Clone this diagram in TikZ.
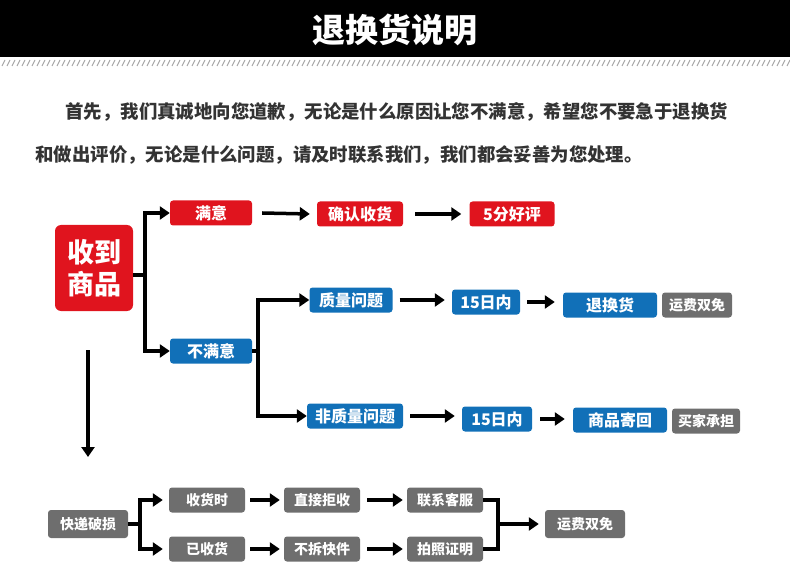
\documentclass[tikz,border=0pt]{standalone}
\usepackage{fontspec}
\setmainfont{Noto Sans CJK SC}
\usetikzlibrary{arrows.meta,positioning}
\definecolor{boxred}{HTML}{E0141E}
\definecolor{boxblue}{HTML}{1170B8}
\definecolor{boxgray}{HTML}{6E6E6E}
\tikzset{
  box/.style={rounded corners=3pt,text=white,font=\fontsize{16}{16}\selectfont\bfseries,
    minimum height=25pt,inner sep=2pt,anchor=center},
  rbox/.style={box,fill=boxred},
  bbox/.style={box,fill=boxblue},
  gbox/.style={box,fill=boxgray,font=\fontsize{14}{14}\selectfont\bfseries},
  arr/.style={line width=3.5pt,-{Triangle[length=10pt,width=13pt]}},
  brk/.style={line width=3.5pt},
}
\begin{document}
\begin{tikzpicture}[x=1pt,y=-1pt]
   \useasboundingbox (0,0) rectangle (790,588);
   % header
   \fill[black] (0,0) rectangle (790,57);
   \node[text=white,font=\fontsize{33}{33}\selectfont\bfseries] (title) at (395,30) {退换货说明};
   \foreach \x in {0,5,...,785}
     \draw[gray!70,line width=1pt] (\x+2,66) -- (\x+5,60);
   \node[anchor=west,text=black!80,font=\fontsize{18.4}{18.4}\selectfont\bfseries] (line1) at (62,112)
     {首先，我们真诚地向您道歉，无论是什么原因让您不满意，希望您不要急于退换货};
   \node[anchor=west,text=black!80,font=\fontsize{18.4}{18.4}\selectfont\bfseries] (line2) at (32,155)
     {和做出评价，无论是什么问题，请及时联系我们，我们都会妥善为您处理。};
   % top branch
   \node[rbox,minimum width=78pt,minimum height=86pt,rounded corners=6pt,
     font=\fontsize{27}{32}\selectfont\bfseries,align=center] (goods) at (94,268) {收到\\商品};
   \node[rbox,minimum width=82pt] (ok) at (211,213) {满意};
   \node[rbox,minimum width=86pt] (confirm) at (360,214) {确认收货};
   \node[rbox,minimum width=85pt] (praise) at (512,214) {5分好评};
   \node[bbox,minimum width=82pt] (notok) at (211,351) {不满意};
   \node[bbox,minimum width=83pt] (qual) at (351,300) {质量问题};
   \node[bbox,minimum width=68pt] (days1) at (486,302) {15日内};
   \node[bbox,minimum width=94pt] (swap) at (610,305) {退换货};
   \node[gbox,minimum width=70pt] (free1) at (697,305) {运费双免};
   \node[bbox,minimum width=96pt] (nqual) at (355,416) {非质量问题};
   \node[bbox,minimum width=70pt] (days2) at (497,419) {15日内};
   \node[bbox,minimum width=94pt] (back) at (620,420) {商品寄回};
   \node[gbox,minimum width=68pt] (buyer) at (706,421) {买家承担};
   \coordinate (j1) at (145,275);
   \draw[brk] (goods.east |- j1) -- (j1);
   \draw[brk] (145,213) -- (145,351);
   \draw[arr] (143.25,213) -- (ok.west);
   \draw[arr] (143.25,351) -- (notok.west);
   \draw[arr] ([xshift=10pt]ok.east) -- ([xshift=-7pt]confirm.west);
   \draw[arr] ([xshift=12pt]confirm.east) -- ([xshift=-8pt]praise.west);
   \draw[brk] (notok.east) -- (258,351);
   \draw[brk] (258,300) -- (258,416);
   \draw[arr] (256.25,300) -- (qual.west);
   \draw[arr] (256.25,416) -- (nqual.west);
   \draw[arr] ([xshift=7pt]qual.east) -- ([xshift=-7pt]days1.west |- qual);
   \draw[arr] ([xshift=7pt]days1.east) -- ([xshift=-8pt]swap.west |- days1);
   \draw[arr] ([xshift=7pt]nqual.east) -- ([xshift=-7pt]days2.west |- nqual);
   \draw[arr] ([xshift=8pt]days2.east) -- ([xshift=-8pt]back.west |- days2);
   \coordinate (down) at (88,457);
   \draw[arr] (88,350) -- (down);
   % bottom branch
   \node[gbox,minimum width=80pt,minimum height=28pt] (broken) at (88,524) {快递破损};
   \node[gbox,minimum width=76pt] (recv) at (207,500) {收货时};
   \node[gbox,minimum width=76pt] (got) at (207,549) {已收货};
   \node[gbox,minimum width=76pt] (refuse) at (322,500) {直接拒收};
   \node[gbox,minimum width=76pt] (keep) at (322,549) {不拆快件};
   \node[gbox,minimum width=76pt] (contact) at (445,500) {联系客服};
   \node[gbox,minimum width=76pt] (photo) at (445,549) {拍照证明};
   \node[gbox,minimum width=80pt,minimum height=28pt] (free2) at (585,524) {运费双免};
   \draw[brk] (broken.east) -- (140,524);
   \draw[brk] (140,500) -- (140,549);
   \draw[arr] (138.25,500) -- ([xshift=-6pt]recv.west);
   \draw[arr] (138.25,549) -- ([xshift=-6pt]got.west);
   \draw[arr] ([xshift=5pt]recv.east) -- ([xshift=-4pt]refuse.west);
   \draw[arr] ([xshift=5pt]got.east) -- ([xshift=-4pt]keep.west);
   \draw[arr] ([xshift=7pt]refuse.east) -- ([xshift=-4pt]contact.west);
   \draw[arr] ([xshift=7pt]keep.east) -- ([xshift=-4pt]photo.west);
   \draw[brk] (contact.east) -- (498,500) -- (498,549) -- (photo.east);
   \draw[arr] (498,524) -- ([xshift=-6pt]free2.west);
\end{tikzpicture}
\end{document}
